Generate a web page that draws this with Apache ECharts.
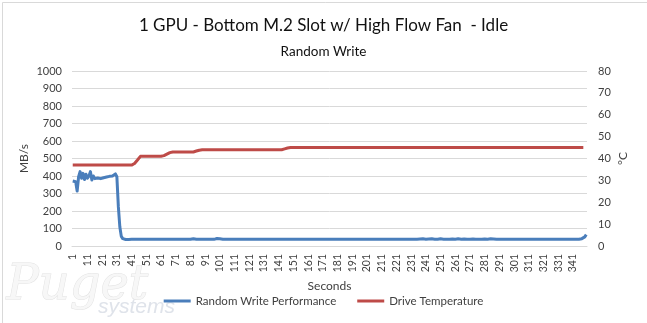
<!DOCTYPE html>
<html>
<head>
<meta charset="utf-8">
<script src="https://cdn.jsdelivr.net/npm/echarts@6/dist/echarts.min.js"></script>
<style>
  html, body { margin: 0; padding: 0; background: #fff; }
  #chart { width: 647px; height: 323px; }
</style>
</head>
<body>
<div id="chart"></div>
<script>
// Elapsed seconds of the run (x categories)
const seconds = [];
for (let s = 1; s <= 350; s++) seconds.push(String(s));

// Random write throughput, MB/s, one sample per second
const writeMBs = [
  371, 381, 367, 314, 396, 425, 387, 415, 380, 410,
  387, 400, 425, 377, 400, 385, 395, 388, 392, 385,
  396, 390, 388, 394, 392, 398, 395, 400, 405, 412,
  396, 225, 110, 55, 42, 38, 37, 38, 37, 38,
  38, 38, 38, 38, 38, 38, 38, 38, 38, 38,
  38, 38, 38, 38, 38, 38, 38, 38, 39, 42,
  38, 38, 38, 38, 38, 38, 38, 38, 38, 38,
  38, 38, 38, 38, 38, 38, 39, 43, 38, 38,
  38, 38, 41, 38, 38, 38, 38, 38, 38, 38,
  38, 38, 38, 38, 38, 38, 38, 39, 43, 38,
  41, 38, 38, 38, 38, 38, 38, 38, 38, 38,
  38, 38, 38, 38, 38, 38, 38, 38, 38, 38,
  38, 38, 38, 38, 38, 38, 38, 38, 38, 38,
  38, 38, 38, 38, 38, 38, 38, 38, 38, 38,
  38, 38, 38, 38, 38, 38, 38, 38, 38, 38,
  38, 38, 38, 38, 38, 38, 38, 38, 38, 38,
  38, 38, 38, 38, 38, 38, 38, 38, 38, 38,
  38, 38, 38, 38, 38, 38, 38, 38, 38, 38,
  38, 38, 38, 38, 38, 38, 38, 38, 38, 38,
  38, 38, 38, 38, 38, 38, 38, 38, 38, 38,
  38, 38, 38, 38, 38, 38, 38, 38, 38, 38,
  38, 38, 38, 38, 38, 38, 38, 38, 38, 38,
  38, 38, 38, 38, 38, 38, 38, 40, 38, 38,
  39, 40, 38, 41, 39, 38, 40, 39, 41, 38,
  39, 38, 40, 38, 41, 39, 38, 40, 38, 39,
  41, 38, 39, 40, 38, 41, 39, 38, 40, 39,
  38, 40, 41, 38, 39, 38, 40, 39, 38, 41,
  39, 38, 40, 38, 39, 41, 38, 40, 38, 39,
  40, 38, 39, 38, 41, 38, 40, 38, 38, 38,
  38, 38, 38, 38, 38, 38, 38, 38, 38, 38,
  38, 38, 38, 38, 38, 38, 38, 38, 38, 38,
  38, 38, 38, 38, 38, 38, 38, 38, 38, 38,
  38, 38, 38, 38, 38, 38, 38, 38, 38, 38,
  38, 38, 38, 38, 38, 38, 38, 38, 38, 38,
  38, 38, 38, 38, 39, 40, 42, 45, 52, 65
];

// Drive temperature, °C, one sample per second
const driveTempC = [
  37, 37, 37, 37, 37, 37, 37, 37, 37, 37, 37, 37, 37, 37, 37, 37, 37, 37, 37, 37,
  37, 37, 37, 37, 37, 37, 37, 37, 37, 37, 37, 37, 37, 37, 37, 37, 37, 37, 37, 37,
  37, 37, 37.7, 38.5, 39.3, 40.2, 41, 41, 41, 41, 41, 41, 41, 41, 41, 41, 41, 41, 41, 41,
  41, 41, 41.3, 41.7, 42, 42.3, 42.7, 43, 43, 43, 43, 43, 43, 43, 43, 43, 43, 43, 43, 43,
  43, 43, 43, 43.2, 43.4, 43.6, 43.8, 44, 44, 44, 44, 44, 44, 44, 44, 44, 44, 44, 44, 44,
  44, 44, 44, 44, 44, 44, 44, 44, 44, 44, 44, 44, 44, 44, 44, 44, 44, 44, 44, 44,
  44, 44, 44, 44, 44, 44, 44, 44, 44, 44, 44, 44, 44, 44, 44, 44, 44, 44, 44, 44,
  44, 44, 44, 44.2, 44.4, 44.6, 44.8, 45, 45, 45, 45, 45, 45, 45, 45, 45, 45, 45, 45, 45,
  45, 45, 45, 45, 45, 45, 45, 45, 45, 45, 45, 45, 45, 45, 45, 45, 45, 45, 45, 45,
  45, 45, 45, 45, 45, 45, 45, 45, 45, 45, 45, 45, 45, 45, 45, 45, 45, 45, 45, 45,
  45, 45, 45, 45, 45, 45, 45, 45, 45, 45, 45, 45, 45, 45, 45, 45, 45, 45, 45, 45,
  45, 45, 45, 45, 45, 45, 45, 45, 45, 45, 45, 45, 45, 45, 45, 45, 45, 45, 45, 45,
  45, 45, 45, 45, 45, 45, 45, 45, 45, 45, 45, 45, 45, 45, 45, 45, 45, 45, 45, 45,
  45, 45, 45, 45, 45, 45, 45, 45, 45, 45, 45, 45, 45, 45, 45, 45, 45, 45, 45, 45,
  45, 45, 45, 45, 45, 45, 45, 45, 45, 45, 45, 45, 45, 45, 45, 45, 45, 45, 45, 45,
  45, 45, 45, 45, 45, 45, 45, 45, 45, 45, 45, 45, 45, 45, 45, 45, 45, 45, 45, 45,
  45, 45, 45, 45, 45, 45, 45, 45, 45, 45, 45, 45, 45, 45, 45, 45, 45, 45, 45, 45,
  45, 45, 45, 45, 45, 45, 45, 45
];

const FONT = 'Lato, "Open Sans", sans-serif';
const TEXT = '#404040';
const GRID_LINE = '#d9d9d9';

const chart = echarts.init(document.getElementById('chart'), null, { renderer: 'canvas' });

chart.setOption({
  animation: false,
  backgroundColor: '#ffffff',
  textStyle: { fontFamily: FONT },
  title: [
    {
      text: '1 GPU - Bottom M.2 Slot w/ High Flow Fan  - Idle',
      left: 'center', top: 12,
      textStyle: { fontFamily: FONT, fontSize: 17, fontWeight: 'normal', color: '#111' }
    },
    {
      text: 'Random Write',
      left: 'center', top: 40,
      textStyle: { fontFamily: FONT, fontSize: 13.5, fontWeight: 'normal', color: '#111' }
    }
  ],
  legend: {
    bottom: 11,
    left: 'center',
    icon: 'rect',
    itemWidth: 27,
    itemHeight: 3,
    itemGap: 21,
    textStyle: { fontFamily: FONT, fontSize: 11.5, color: TEXT },
    data: ['Random Write Performance', 'Drive Temperature']
  },
  grid: {
    left: 72, right: 60, top: 71, bottom: 77,
    containLabel: false,
    outerBoundsMode: 'none'
  },
  xAxis: {
    type: 'category',
    data: seconds,
    boundaryGap: true,
    name: 'Seconds',
    nameLocation: 'middle',
    nameGap: 34,
    nameMoveOverlap: false,
    nameTextStyle: { fontFamily: FONT, fontSize: 12, color: TEXT },
    axisLine: { show: true, lineStyle: { color: GRID_LINE, width: 1 } },
    axisTick: { show: false },
    axisLabel: {
      interval: 9,
      rotate: 90,
      margin: 8,
      fontFamily: FONT,
      fontSize: 10.5,
      color: TEXT
    },
    splitLine: { show: false }
  },
  yAxis: [
    {
      type: 'value',
      min: 0, max: 1000, interval: 100,
      name: 'MB/s',
      nameLocation: 'middle',
      nameGap: 42,
      nameMoveOverlap: false,
      nameTextStyle: { fontFamily: FONT, fontSize: 12, color: TEXT },
      axisLine: { show: false },
      axisTick: { show: false },
      axisLabel: {
        margin: 10, fontFamily: FONT, fontSize: 11, color: TEXT,
        formatter: (v) => String(v)
      },
      splitLine: { show: true, lineStyle: { color: GRID_LINE, width: 1 } }
    },
    {
      type: 'value',
      min: 0, max: 80, interval: 10,
      name: '°C',
      nameLocation: 'middle',
      nameGap: 30,
      nameMoveOverlap: false,
      nameTextStyle: { fontFamily: FONT, fontSize: 12, color: TEXT },
      axisLine: { show: false },
      axisTick: { show: false },
      axisLabel: { margin: 11, fontFamily: FONT, fontSize: 11, color: TEXT },
      splitLine: { show: false }
    }
  ],
  series: [
    {
      name: 'Random Write Performance',
      type: 'line',
      yAxisIndex: 0,
      data: writeMBs,
      symbol: 'none',
      color: '#4a7ebb',
      lineStyle: { color: '#4a7ebb', width: 3, join: 'round' },
      z: 3
    },
    {
      name: 'Drive Temperature',
      type: 'line',
      yAxisIndex: 1,
      data: driveTempC,
      symbol: 'none',
      color: '#be4b48',
      lineStyle: { color: '#be4b48', width: 3, join: 'round' },
      z: 2
    }
  ],
  graphic: [
    {
      type: 'rect',
      left: 0, top: 0, z: 0,
      shape: { x: 0.5, y: 0.5, width: 646, height: 322 },
      style: { fill: 'none', stroke: '#d9d9d9', lineWidth: 1 },
      silent: true
    },
    {
      type: 'text',
      left: 6, top: 262, z: 0,
      style: {
        text: 'Puget',
        font: 'italic 48px "DejaVu Serif", serif',
        fill: '#f7f7f7',
        stroke: '#e2e2e2',
        lineWidth: 1
      },
      silent: true
    },
    {
      type: 'text',
      left: 98, top: 297, z: 0,
      style: {
        text: 'systems',
        font: 'italic 21px "Liberation Sans", sans-serif',
        fill: '#dfe3ea'
      },
      silent: true
    }
  ]
});
</script>
</body>
</html>
